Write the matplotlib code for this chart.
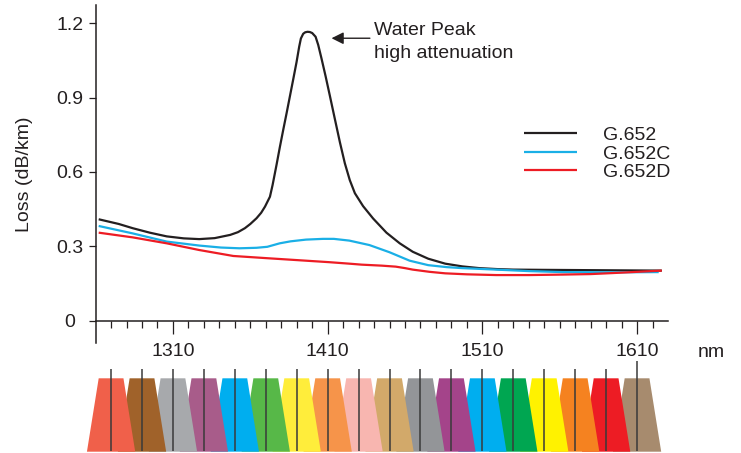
import matplotlib
matplotlib.use("Agg")
import matplotlib.pyplot as plt
import numpy as np

plt.rcParams['font.family'] = ['Liberation Sans', 'DejaVu Sans']

TXT = '#231F20'

# ---- data ----
g652_wl = [1262, 1275, 1284, 1295, 1306, 1317, 1327, 1337, 1347, 1352, 1356.5, 1360,
           1364, 1367, 1369.5, 1372.7, 1374.4, 1377, 1379.1, 1381.3, 1383.5, 1385.6,
           1387.8, 1389.9, 1391.6, 1392.7, 1394.2, 1395.5, 1397, 1398.5, 1400, 1402.2,
           1403.9, 1406, 1408.7, 1411.5, 1414.6, 1417.9, 1421.1, 1424.3, 1427.6, 1432.9,
           1439.4, 1448, 1456.6, 1465, 1475, 1486, 1497, 1508, 1520, 1530, 1550, 1575,
           1600, 1626]
g652_loss = [0.409, 0.390, 0.373, 0.355, 0.340, 0.332, 0.329, 0.333, 0.346, 0.357, 0.373, 0.390,
             0.413, 0.435, 0.460, 0.500, 0.547, 0.630, 0.700, 0.770, 0.838, 0.905,
             0.975, 1.043, 1.105, 1.138, 1.157, 1.163, 1.165, 1.164, 1.160, 1.145,
             1.112, 1.058, 0.985, 0.905, 0.815, 0.720, 0.635, 0.567, 0.514, 0.462,
             0.412, 0.355, 0.312, 0.278, 0.250, 0.230, 0.219, 0.212, 0.208, 0.206, 0.205, 0.204,
             0.203, 0.202]

g652c_wl = [1262, 1284, 1306, 1327, 1341, 1353, 1364, 1371, 1379, 1386, 1396, 1407,
            1414, 1424, 1437, 1450, 1463, 1475, 1487, 1497, 1519, 1540, 1562, 1595, 1624]
g652c_loss = [0.382, 0.352, 0.319, 0.303, 0.295, 0.292, 0.294, 0.298, 0.312, 0.320, 0.327, 0.330,
              0.330, 0.323, 0.305, 0.276, 0.242, 0.224, 0.216, 0.212, 0.206, 0.200, 0.196, 0.195, 0.196]

g652d_wl = [1262, 1284, 1306, 1327, 1349, 1371, 1396, 1411, 1424, 1432, 1445, 1454,
            1460, 1465, 1476, 1486, 1500, 1519, 1540, 1562, 1580, 1594, 1610, 1626]
g652d_loss = [0.355, 0.336, 0.312, 0.285, 0.261, 0.252, 0.242, 0.236, 0.230, 0.226, 0.222, 0.218,
              0.212, 0.206, 0.197, 0.191, 0.187, 0.184, 0.184, 0.186, 0.188, 0.192, 0.197, 0.202]

series_names = ['G.652', 'G.652C', 'G.652D']
series_colors = ['#231F20', '#1AAFE6', '#ED1C24']

x_major = [1310, 1410, 1510, 1610]
x_major_labels = ['1310', '1410', '1510', '1610']
x_minor = list(range(1270, 1630, 10))
y_ticks = [0, 0.3, 0.6, 0.9, 1.2]
y_tick_labels = ['0', '0.3', '0.6', '0.9', '1.2']

cwdm_channels = list(range(1270, 1611, 20))
cwdm_colors = ['#F0604A', '#A0622A', '#A7A9AC', '#A85C8A', '#00AEEF', '#57B848',
               '#FFED3B', '#F6944A', '#F8B6B0', '#D2A96A', '#939598', '#A4448A',
               '#00AEEF', '#00A651', '#FFF200', '#F58220', '#ED1C24', '#A78B6E']

# ---- figure ----
W, H = 741, 453
fig = plt.figure(figsize=(W / 100, H / 100), dpi=100)

def px_rect(x0, y0, x1, y1):
    return [x0 / W, 1 - y1 / H, (x1 - x0) / W, (y1 - y0) / H]

X0, X1 = 95.6, 668
XMIN, XMAX = 1260, 1630
PPN = (X1 - X0) / (XMAX - XMIN)

ax = fig.add_axes(px_rect(X0, 5, X1, 343))
ax.set_xlim(XMIN, XMAX)
ax.set_ylim(-0.0899, 1.273)

for wl, loss, name, col in zip([g652_wl, g652c_wl, g652d_wl],
                               [g652_loss, g652c_loss, g652d_loss],
                               series_names, series_colors):
    ax.plot(wl, loss, color=col, lw=1.6, label=name, solid_capstyle='butt',
            solid_joinstyle='round')

for s in ['top', 'right']:
    ax.spines[s].set_visible(False)
ax.spines['bottom'].set_position(('data', 0))
ax.spines['bottom'].set_bounds(XMIN, XMAX)
for s in ['left', 'bottom']:
    ax.spines[s].set_linewidth(1.1)
    ax.spines[s].set_color(TXT)

ax.set_xticks(x_major)
ax.set_xticklabels(x_major_labels)
ax.set_xticks([v for v in x_minor if v not in x_major], minor=True)
ax.tick_params(axis='x', which='major', direction='out', length=9.5, width=0.9,
               color=TXT, labelsize=14, labelcolor=TXT, pad=6.5)
ax.tick_params(axis='x', which='minor', direction='out', length=5, width=0.9, color=TXT)
ax.set_yticks(y_ticks)
ax.set_yticklabels(y_tick_labels)
ax.tick_params(axis='y', which='major', direction='out', length=5, width=0.9,
               color=TXT, labelsize=14, labelcolor=TXT, pad=3.6)
ax.yaxis.get_major_ticks()[0].set_pad(10)

ax.set_ylabel('Loss (dB/km)', fontsize=14, color=TXT)
ax.yaxis.set_label_coords(-0.109, 0.5)

fig.text(711 / W, 1 - 356.7 / H, 'nm', ha='center', va='baseline', fontsize=14, color=TXT)

ax.annotate('', xy=(1412.5, 1.139), xytext=(1437.3, 1.139),
            arrowprops=dict(arrowstyle='-|>', color=TXT, lw=1.0, mutation_scale=18,
                            shrinkA=0, shrinkB=0))
ax.text(1439.8, 1.152, 'Water Peak', fontsize=14, color=TXT, ha='left', va='baseline')
ax.text(1439.8, 1.058, 'high attenuation', fontsize=14, color=TXT, ha='left', va='baseline')

leg = ax.legend(loc='center left', bbox_to_anchor=(524 / W, 1 - 153.7 / H),
                bbox_transform=fig.transFigure, frameon=False, fontsize=14,
                handlelength=2.73, handletextpad=1.32, labelspacing=0.06,
                borderpad=0, borderaxespad=0)
for t in leg.get_texts():
    t.set_color(TXT)

# ---- CWDM channel band (wider axes so the first/last shapes are not clipped) ----
BX0, BX1 = 70, 700
bx = fig.add_axes(px_rect(BX0, 360, BX1, 453))
bx.set_xlim(XMIN - (X0 - BX0) / PPN, XMAX + (BX1 - X1) / PPN)
bx.set_ylim(0, 93)
bx.axis('off')
bot, top = 1.3, 74.7
for i, (c, col) in enumerate(zip(cwdm_channels, cwdm_colors)):
    bx.fill([c - 15.6, c - 8.0, c + 8.0, c + 15.6], [bot, top, top, bot],
            color=col, lw=0, zorder=100 - i)
line_tops = [84.5] * (len(cwdm_channels) - 1) + [92]
bx.vlines(cwdm_channels, 2, line_tops, color='#3A3A3A', lw=1.1, zorder=200)

fig.savefig('out.png', dpi=100)
